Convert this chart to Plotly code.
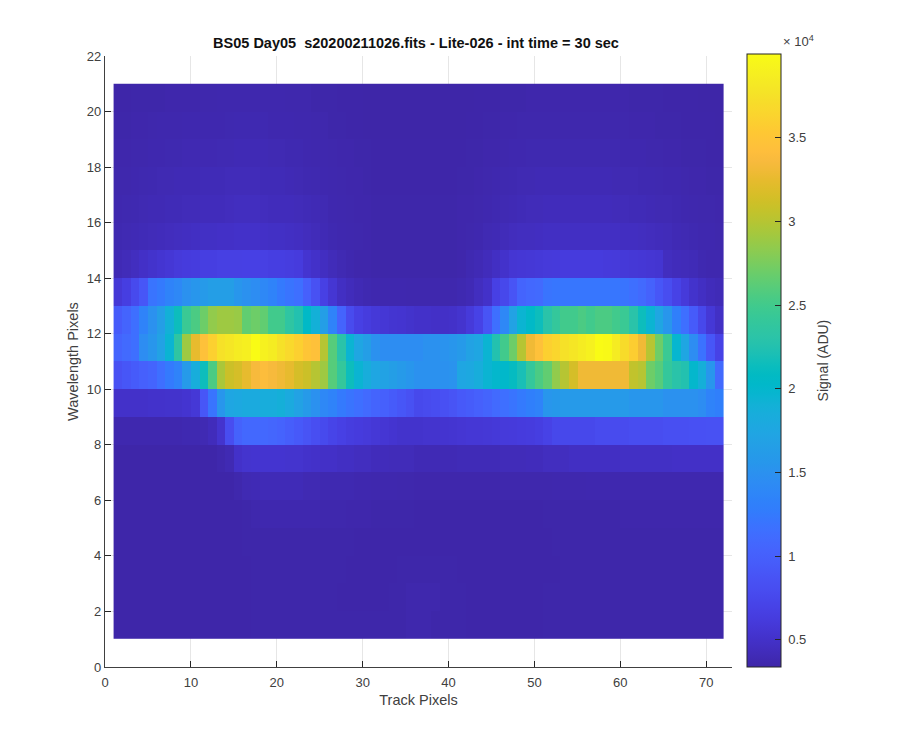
import plotly.graph_objects as go

track_edges = list(range(1, 73))
wave_edges = list(range(1, 22))

row_01 = [3450,3450,3450,3450,3450,3450,3450,3450,3450,3450, 3450,3450,3450,3450,3450,3450,3500,3500,3500,3500,
          3500,3500,3500,3500,3500,3500,3500,3500,3500,3500, 3500,3500,3500,3500,3600,3600,3600,3500,3500,3500,
          3500,3450,3450,3450,3450,3450,3450,3450,3450,3450, 3500,3500,3500,3500,3500,3500,3500,3500,3500,3500,
          3500,3500,3500,3500,3500,3500,3500,3500,3500,3500, 3500]
row_02 = [3450,3450,3450,3450,3450,3450,3450,3450,3450,3450, 3450,3450,3450,3450,3450,3450,3500,3500,3500,3500,
          3500,3500,3500,3500,3500,3500,3450,3450,3450,3450, 3450,3450,3500,3500,3600,3600,3600,3600,3500,3500,
          3500,3450,3450,3450,3450,3450,3450,3450,3450,3450, 3500,3500,3500,3500,3500,3500,3500,3500,3500,3500,
          3500,3500,3500,3500,3500,3500,3500,3500,3500,3500, 3500]
row_03 = [3450,3450,3450,3450,3450,3450,3450,3450,3450,3450, 3450,3450,3450,3450,3450,3450,3500,3500,3500,3500,
          3500,3500,3500,3500,3500,3500,3500,3450,3450,3450, 3450,3450,3450,3500,3500,3500,3500,3500,3500,3500,
          3450,3450,3450,3450,3450,3450,3450,3450,3450,3450, 3450,3450,3500,3500,3500,3500,3500,3500,3500,3500,
          3500,3500,3500,3500,3500,3500,3500,3500,3500,3500, 3500]
row_04 = [3450,3450,3450,3450,3450,3450,3450,3450,3450,3450, 3450,3450,3450,3450,3450,3500,3500,3500,3500,3500,
          3500,3500,3500,3500,3500,3500,3500,3500,3450,3450, 3450,3450,3450,3450,3450,3450,3450,3450,3450,3450,
          3450,3450,3450,3450,3450,3450,3450,3450,3450,3450, 3450,3500,3500,3500,3500,3500,3500,3500,3500,3500,
          3500,3500,3500,3500,3500,3500,3500,3500,3500,3500, 3500]
row_05 = [3450,3450,3450,3450,3450,3450,3450,3450,3450,3450, 3450,3450,3450,3450,3450,3500,3600,3700,3700,3700,
          3700,3700,3700,3700,3600,3600,3600,3550,3550,3550, 3500,3500,3500,3500,3500,3450,3450,3450,3450,3450,
          3450,3450,3450,3450,3450,3450,3450,3450,3450,3450, 3500,3500,3500,3500,3500,3500,3500,3500,3500,3550,
          3550,3550,3550,3550,3550,3550,3550,3550,3550,3550, 3550]
row_06 = [3450,3450,3450,3450,3450,3450,3450,3450,3450,3450, 3450,3450,3450,3450,3600,3900,4000,4100,4100,4100,
          4100,4100,3900,3900,3800,3800,3800,3800,3700,3700, 3650,3650,3650,3600,3600,3550,3550,3550,3550,3550,
          3550,3550,3550,3550,3550,3600,3600,3600,3600,3600, 3600,3650,3650,3650,3650,3700,3700,3700,3700,3700,
          3700,3700,3700,3700,3700,3700,3700,3700,3700,3700, 3700]
row_07 = [3450,3450,3450,3450,3450,3450,3450,3450,3450,3450, 3450,3450,3600,3900,5000,5300,5400,5400,5400,5400,
          5300,5300,5100,5000,4900,4900,4700,4700,4500,4500, 4300,4300,4200,4200,4200,4000,4000,4000,4000,4000,
          4100,4100,4100,4100,4100,4200,4200,4200,4300,4300, 4500,4500,4500,4700,4700,4700,4700,4700,4700,4800,
          4800,4800,4800,4800,4800,4900,4900,4900,4900,4900, 4900]
row_08 = [3700,3700,3700,3700,3700,3700,3700,3700,3800,3800, 3900,4300,5300,8000,10200,10800,10800,10800,10600,10300,
          9800,9300,8800,8200,7700,7200,6800,6400,6200,6000, 5800,5600,5400,5200,5200,5200,5300,5300,5400,5500,
          5600,5700,5700,5800,5900,6000,6100,6200,6300,6500, 7000,7500,7500,7500,7500,7500,7800,7800,7800,7800,
          8000,8000,8000,8000,8300,8300,8300,8400,8400,8500, 8500]
row_09 = [5000,5000,5000,5000,5100,5100,5200,5200,5400,5800, 9000,12000,15500,17500,17800,18000,18000,18500,18500,18800,
          18000,17000,16000,15000,14000,13500,12500,12000,11500,11000, 10500,10000,9500,9000,8500,7600,7800,8000,8400,8800,
          9300,9600,10000,10500,11000,11500,12000,12500,13000,13500, 15500,15800,16000,16000,16000,16000,16000,16000,16000,16000,
          15500,15500,15500,15500,15000,15000,15000,15000,14500,13500, 13000]
row_10 = [8500,9000,9500,10000,10500,11500,12500,13500,16000,18500, 21500,25500,29500,31000,31500,32500,33500,34000,33500,33000,
          32500,31500,31000,30000,29000,26000,24000,21500,19500,18500, 17500,17000,16500,16000,15500,15000,15000,15000,15000,15200,
          17500,17800,18500,19500,20000,20200,21000,22000,24000,25500, 26500,28500,30000,31500,33000,33000,33000,33000,33000,33000,
          30500,30000,27000,26000,24000,23000,22500,20000,18800,15500, 11000]
row_11 = [10500,11000,11500,14500,15500,17000,19500,23500,29000,32500, 34500,36000,37500,38000,38500,38800,40000,39000,38500,37500,
          36800,36000,35000,34500,30000,26000,23000,19500,17500,16500, 15000,14500,14500,14500,14500,14500,15000,15000,15200,15500,
          16000,17000,17500,19500,22500,25000,27000,30000,33000,34500, 36000,36500,37500,38000,38500,39000,40000,39800,38500,37000,
          35800,33000,30000,27000,24500,19800,17500,14500,11800,9000, 7000]
row_12 = [9500,10500,11500,13500,15000,16500,19000,21500,24500,25500, 27000,28500,29000,29000,28800,26500,27000,26500,25000,25000,
          23500,22500,20500,19000,16500,13500,10500,7800,6800,6300, 5900,5700,5500,5400,5200,5000,5000,4900,4900,5000,
          5300,6000,7000,8800,11500,14000,17000,19500,20500,21500, 23000,24000,25000,25000,25500,25000,25500,25500,25000,24500,
          23000,21500,19500,17500,15500,13000,11500,9500,7500,5800, 4800]
row_13 = [5800,6500,7700,9000,12000,12500,13500,14000,15000,15500, 16000,16500,16500,16500,15500,15000,14500,14000,13500,12500,
          12000,11500,10000,8500,6800,5600,4700,4300,4000,3800, 3700,3700,3700,3700,3650,3650,3650,3650,3650,3650,
          3800,4000,4500,5000,6800,7500,8800,10500,10800,11000, 12000,12200,12200,12200,12200,12200,12200,12200,12200,12000,
          11500,11000,10200,9000,8000,7000,6000,5200,4700,4300, 4100]
row_14 = [4000,4200,4500,4900,5200,5500,5700,6000,6200,6300, 6500,6500,6700,6700,6700,6800,6800,6700,6500,6500,
          6400,6200,5400,5000,4600,4200,3900,3700,3550,3550, 3500,3500,3500,3500,3500,3500,3500,3500,3500,3500,
          3550,3800,4000,4300,4700,5100,5600,5700,5800,5900, 6000,6100,6200,6200,6200,6200,6200,6100,6000,5900,
          5800,5700,5600,5500,4500,4300,4200,4100,3800,3700, 3700]
row_15 = [3800,3900,4000,4100,4200,4300,4400,4500,4600,4700, 4800,4800,4900,4900,5000,5000,5000,4900,4800,4800,
          4700,4600,4400,4200,4000,3800,3700,3650,3600,3550, 3500,3500,3500,3500,3500,3500,3500,3500,3500,3500,
          3550,3600,3700,3900,4000,4200,4400,4500,4500,4600, 4700,4700,4700,4700,4700,4700,4700,4700,4700,4600,
          4600,4500,4400,4300,4200,4000,3900,3800,3700,3700, 3600]
row_16 = [3700,3750,3800,3900,4000,4000,4100,4100,4200,4200, 4300,4300,4300,4400,4500,4500,4500,4400,4300,4300,
          4300,4200,4100,4000,3900,3700,3650,3600,3550,3550, 3500,3500,3500,3500,3500,3500,3500,3500,3500,3500,
          3550,3550,3600,3700,3800,3900,4000,4100,4200,4200, 4300,4300,4300,4300,4300,4300,4300,4300,4200,4200,
          4100,4100,4000,3900,3900,3800,3700,3650,3600,3600, 3550]
row_17 = [3600,3600,3700,3750,3800,3900,3900,4000,4000,4000, 4100,4100,4100,4200,4200,4200,4200,4100,4100,4100,
          4000,3900,3800,3750,3700,3650,3600,3550,3550,3500, 3450,3450,3450,3450,3450,3450,3450,3450,3450,3450,
          3500,3500,3550,3600,3700,3750,3800,3900,3900,4000, 4000,4000,4000,4000,4000,4000,4000,4000,3900,3900,
          3900,3800,3800,3750,3700,3700,3600,3550,3550,3500, 3500]
row_18 = [3550,3550,3600,3600,3700,3700,3750,3750,3850,3850, 3850,3850,3900,3900,4000,4000,4000,4000,3900,3900,
          3800,3800,3700,3650,3650,3600,3550,3550,3500,3500, 3450,3450,3450,3450,3450,3450,3450,3450,3450,3450,
          3450,3500,3500,3550,3550,3600,3700,3700,3750,3750, 3750,3750,3750,3750,3750,3750,3750,3750,3750,3700,
          3700,3700,3600,3600,3550,3550,3500,3500,3500,3450, 3450]
row_19 = [3500,3500,3550,3550,3600,3650,3650,3650,3700,3700, 3700,3700,3700,3750,3800,3800,3800,3800,3700,3700,
          3700,3650,3650,3600,3600,3500,3500,3450,3450,3400, 3400,3400,3400,3400,3400,3400,3400,3400,3400,3400,
          3400,3450,3450,3500,3500,3550,3550,3600,3600,3600, 3600,3600,3600,3600,3600,3600,3600,3600,3600,3600,
          3550,3550,3550,3500,3500,3500,3450,3450,3450,3450, 3400]
row_20 = [3450,3450,3500,3500,3500,3500,3550,3550,3550,3550, 3600,3600,3650,3650,3650,3650,3650,3650,3650,3650,
          3600,3600,3600,3500,3500,3500,3450,3450,3450,3400, 3400,3400,3400,3400,3400,3400,3400,3400,3400,3400,
          3400,3400,3450,3450,3450,3500,3500,3500,3550,3550, 3550,3550,3550,3550,3550,3550,3550,3550,3550,3550,
          3500,3500,3500,3500,3450,3450,3450,3450,3400,3400, 3400]

signal = [row_01, row_02, row_03, row_04, row_05, row_06, row_07, row_08, row_09, row_10,
          row_11, row_12, row_13, row_14, row_15, row_16, row_17, row_18, row_19, row_20]
assert all(len(r) == 71 for r in signal), [len(r) for r in signal]

cbar_ticks = [5000, 10000, 15000, 20000, 25000, 30000, 35000]
cbar_labels = ["\u00a00.5", "\u00a01", "\u00a01.5", "\u00a02", "\u00a02.5", "\u00a03", "\u00a03.5"]
x_ticks = [0, 10, 20, 30, 40, 50, 60, 70]
y_ticks = list(range(0, 23, 2))

parula = [
    (0.2422,0.1504,0.6603),(0.2504,0.1650,0.7076),(0.2578,0.1818,0.7511),(0.2647,0.1978,0.7952),
    (0.2706,0.2147,0.8364),(0.2751,0.2342,0.8710),(0.2783,0.2559,0.8991),(0.2803,0.2782,0.9221),
    (0.2813,0.3006,0.9414),(0.2810,0.3228,0.9579),(0.2795,0.3447,0.9717),(0.2760,0.3667,0.9829),
    (0.2699,0.3892,0.9906),(0.2602,0.4123,0.9952),(0.2440,0.4358,0.9988),(0.2206,0.4603,0.9973),
    (0.1963,0.4847,0.9892),(0.1834,0.5074,0.9798),(0.1786,0.5289,0.9682),(0.1764,0.5499,0.9520),
    (0.1687,0.5703,0.9359),(0.1540,0.5902,0.9218),(0.1460,0.6091,0.9079),(0.1380,0.6276,0.8973),
    (0.1248,0.6459,0.8883),(0.1113,0.6635,0.8763),(0.0952,0.6798,0.8598),(0.0689,0.6948,0.8394),
    (0.0297,0.7082,0.8163),(0.0036,0.7203,0.7917),(0.0067,0.7312,0.7660),(0.0433,0.7411,0.7394),
    (0.0964,0.7500,0.7120),(0.1408,0.7584,0.6842),(0.1717,0.7670,0.6554),(0.1938,0.7758,0.6251),
    (0.2161,0.7843,0.5923),(0.2470,0.7918,0.5567),(0.2906,0.7973,0.5188),(0.3406,0.8008,0.4789),
    (0.3909,0.8029,0.4354),(0.4456,0.8024,0.3909),(0.5044,0.7993,0.3480),(0.5616,0.7942,0.3045),
    (0.6174,0.7876,0.2612),(0.6720,0.7793,0.2227),(0.7242,0.7698,0.1910),(0.7738,0.7598,0.1646),
    (0.8203,0.7498,0.1535),(0.8634,0.7406,0.1596),(0.9035,0.7330,0.1774),(0.9393,0.7288,0.2100),
    (0.9728,0.7298,0.2394),(0.9956,0.7434,0.2371),(0.9970,0.7659,0.2199),(0.9952,0.7861,0.1990),
    (0.9892,0.8136,0.1885),(0.9786,0.8386,0.1766),(0.9676,0.8639,0.1643),(0.9610,0.8890,0.1537),
    (0.9597,0.9135,0.1423),(0.9628,0.9373,0.1265),(0.9691,0.9606,0.1064),(0.9769,0.9839,0.0805),
]
n = len(parula)
colorscale = [[i / (n - 1), f"rgb({round(c[0]*255)},{round(c[1]*255)},{round(c[2]*255)})"]
              for i, c in enumerate(parula)]

FONT = "Liberation Sans"
INK = "#404040"
TICK = "#262626"

# The page body adds an 8 px offset, so page positions are reduced by it here.
OFF = 8
L, R, T, B = 105 - OFF, 732.5 - OFF, 56 - OFF, 667 - OFF
plot_w = R - L
plot_h = B - T

fig = go.Figure(go.Heatmap(
    x=track_edges, y=wave_edges, z=signal,
    colorscale=colorscale, zmin=3380, zmax=40000,
    hoverinfo="skip",
    colorbar=dict(
        x=(747.5 - OFF - L) / plot_w, xanchor="left", y=0, yanchor="bottom",
        len=613 / 611, lenmode="fraction", thickness=34, thicknessmode="pixels",
        xpad=0, ypad=0,
        outlinecolor="#262626", outlinewidth=1,
        tickmode="array", tickvals=cbar_ticks, ticktext=cbar_labels,
        ticks="inside", ticklen=6, tickcolor="#262626", tickwidth=1,
        tickfont=dict(family=FONT, size=13, color=INK),
    ),
))

fig.update_layout(
    width=900, height=750,
    margin=dict(l=L, r=900 - R, t=T, b=750 - B, pad=0),
    paper_bgcolor="white", plot_bgcolor="white",
    font=dict(family=FONT, size=13, color=INK),
    title=dict(
        text="<b>BS05 Day05  s20200211026.fits - Lite-026 - int time = 30 sec</b>",
        x=(416 - OFF) / 900, xanchor="center", y=1 - (43 - OFF) / 750, yanchor="middle",
        font=dict(family=FONT, size=14.5, color="#111111"),
    ),
    xaxis=dict(
        range=[0, 73], tickmode="array", tickvals=x_ticks,
        ticks="inside", ticklen=6, tickcolor=TICK, tickwidth=1,
        showline=True, linecolor="#404040", linewidth=1.2,
        showgrid=True, gridcolor="#e6e6e6", gridwidth=1, zeroline=False,
        ticklabelstandoff=3,
        tickfont=dict(family=FONT, size=13, color=INK),
        title=dict(text="Track Pixels", font=dict(family=FONT, size=14.5, color=INK), standoff=6),
    ),
    yaxis=dict(
        range=[0, 22], tickmode="array", tickvals=y_ticks,
        ticks="inside", ticklen=6, tickcolor=TICK, tickwidth=1,
        showline=True, linecolor="#404040", linewidth=1.2,
        showgrid=True, gridcolor="#e6e6e6", gridwidth=1, zeroline=False,
        tickfont=dict(family=FONT, size=13, color=INK),
        title=dict(text="Wavelength Pixels", font=dict(family=FONT, size=14.5, color=INK), standoff=4),
    ),
    annotations=[
        dict(text="Signal (ADU)", textangle=-90, xref="paper", yref="paper",
             x=(824 - OFF - L) / plot_w, y=(667 - 360) / plot_h, xanchor="center", yanchor="middle",
             showarrow=False, font=dict(family=FONT, size=14, color=INK)),
        dict(text="× 10<sup>4</sup>", xref="paper", yref="paper",
             x=(782 - OFF - L) / plot_w, y=(667 - 41) / plot_h, xanchor="left", yanchor="middle",
             showarrow=False, font=dict(family=FONT, size=13, color=INK)),
    ],
)

fig.write_html("out.html")
